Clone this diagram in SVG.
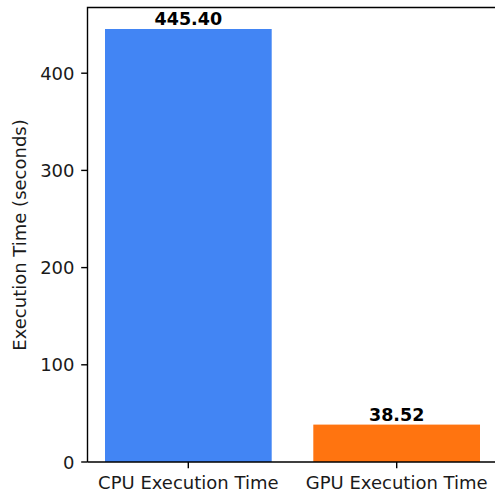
<svg xmlns="http://www.w3.org/2000/svg" width="495" height="496" viewBox="0 0 495 496">
<style>
text{font-family:"DejaVu Sans",sans-serif;fill:#1a1a1a}
.tk{font-size:18px}
.val{font-size:17.5px;font-weight:bold;text-anchor:middle;fill:#000}
.spine{stroke:#000;stroke-width:1.4;fill:none}
.tick{stroke:#000;stroke-width:1.4}
</style>
<rect width="495" height="496" fill="#fff"/>
<g id="cpu-bar">
<rect x="105" y="29" width="166.7" height="433" fill="#4285F4"/>
<text class="val" x="188.3" y="25">445.40</text>
</g>
<g id="gpu-bar">
<rect x="313.3" y="424.6" width="166.7" height="37.4" fill="#FF7410"/>
<text class="val" x="396.7" y="420.8">38.52</text>
</g>
<g id="axes">
<path class="spine" d="M87.5,462 V7.5 H496 M87.5,462 H496"/>
<g class="tick">
<line x1="81.2" y1="462" x2="87.5" y2="462"/>
<line x1="81.2" y1="364.8" x2="87.5" y2="364.8"/>
<line x1="81.2" y1="267.6" x2="87.5" y2="267.6"/>
<line x1="81.2" y1="170.4" x2="87.5" y2="170.4"/>
<line x1="81.2" y1="73.2" x2="87.5" y2="73.2"/>
<line x1="188.3" y1="462" x2="188.3" y2="468.3"/>
<line x1="396.7" y1="462" x2="396.7" y2="468.3"/>
</g>
<g class="tk" text-anchor="end">
<text x="74.5" y="468.5">0</text>
<text x="74.5" y="371.3">100</text>
<text x="74.5" y="274.1">200</text>
<text x="74.5" y="176.9">300</text>
<text x="74.5" y="79.7">400</text>
</g>
<g class="tk" text-anchor="middle">
<text x="188.3" y="489">CPU Execution Time</text>
<text x="396.7" y="489">GPU Execution Time</text>
</g>
<text class="tk" text-anchor="middle" transform="translate(26,235) rotate(-90)">Execution Time (seconds)</text>
</g>
</svg>
